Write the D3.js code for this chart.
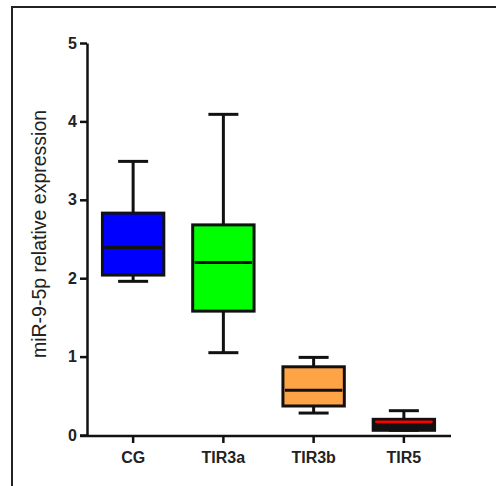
<!DOCTYPE html>
<html lang="en">
<head>
    <meta charset="UTF-8">
    <title>miR-9-5p boxplot</title>
    <script src="https://d3js.org/d3.v7.min.js"></script>
    <style>
        body { margin: 0; background: #fff; }
        .axis text { font-family: "Liberation Sans", Arial, sans-serif; font-weight: bold; font-size: 16px; fill: #222; }
        .axis path, .axis line { stroke: #111; stroke-width: 2.5px; }
    </style>
</head>
<body>
    <div id="chart"></div>

    <script>
        // values
        const categories = ["CG", "TIR3a", "TIR3b", "TIR5"];
        const mins    = [1.96, 1.05, 0.28, 0.06];
        const q1s     = [2.04, 1.58, 0.37, 0.06];
        const medians = [2.39, 2.20, 0.57, 0.17];
        const q3s     = [2.83, 2.68, 0.87, 0.20];
        const maxs    = [3.49, 4.09, 0.99, 0.31];
        const fills   = ["#0000ff", "#00ff00", "#ffa347", "#111111"];
        const medianColors = ["#111", "#111", "#111", "#ff0000"];
        const yTicks = [0, 1, 2, 3, 4, 5];

        const data = categories.map((c, i) => ({
            cat: c, min: mins[i], q1: q1s[i], med: medians[i], q3: q3s[i], max: maxs[i],
            fill: fills[i], medColor: medianColors[i]
        }));

        const W = 496, H = 486;
        const svg = d3.select("#chart")
          .append("svg")
            .attr("width", W)
            .attr("height", H);

        // frame round the figure
        svg.append("path")
            .attr("d", `M12,${H} V7 H${W}`)
            .attr("fill", "none")
            .attr("stroke", "#222")
            .attr("stroke-width", 2);

        const x = d3.scaleBand()
            .domain(categories)
            .range([88, 449]);

        const y = d3.scaleLinear()
            .domain([0, 5])
            .range([435, 43]);

        // y axis
        svg.append("g")
            .attr("class", "axis")
            .attr("transform", "translate(87,0)")
            .call(d3.axisLeft(y).tickValues(yTicks).tickFormat(d3.format("d"))
                .tickSize(7).tickSizeOuter(0).tickPadding(3));

        // x axis, the line runs a bit past the y axis like in the original
        const xAxis = svg.append("g")
            .attr("class", "axis")
            .attr("transform", "translate(0,436)")
            .call(d3.axisBottom(x).tickSize(7).tickPadding(9));
        xAxis.select(".domain").attr("d", "M80,0H451");

        // y title
        svg.append("text")
            .attr("transform", "rotate(-90)")
            .attr("x", -234)
            .attr("y", 46)
            .attr("text-anchor", "middle")
            .style("font-family", "Liberation Sans, Arial, sans-serif")
            .style("font-size", "19.5px")
            .style("fill", "#222")
            .text("miR-9-5p relative expression");

        const boxW = x.bandwidth() * 0.68;
        const capW = 30;
        const cx = d => x(d.cat) + x.bandwidth() / 2;

        const g = svg.append("g");

        // whiskers
        g.selectAll(".whisker")
            .data(data)
            .enter()
            .append("line")
            .attr("x1", cx).attr("x2", cx)
            .attr("y1", d => y(d.min))
            .attr("y2", d => y(d.max))
            .attr("stroke", "#111")
            .attr("stroke-width", 3);

        g.selectAll(".cap-top")
            .data(data)
            .enter()
            .append("line")
            .attr("x1", d => cx(d) - capW / 2)
            .attr("x2", d => cx(d) + capW / 2)
            .attr("y1", d => y(d.max))
            .attr("y2", d => y(d.max))
            .attr("stroke", "#111")
            .attr("stroke-width", 3);

        g.selectAll(".cap-bottom")
            .data(data)
            .enter()
            .append("line")
            .attr("x1", d => cx(d) - capW / 2)
            .attr("x2", d => cx(d) + capW / 2)
            .attr("y1", d => y(d.min))
            .attr("y2", d => y(d.min))
            .attr("stroke", "#111")
            .attr("stroke-width", 3);

        // boxes
        g.selectAll(".box")
            .data(data)
            .enter()
            .append("rect")
            .attr("x", d => cx(d) - boxW / 2)
            .attr("width", boxW)
            .attr("y", d => y(d.q3))
            .attr("height", d => y(d.q1) - y(d.q3))
            .attr("fill", d => d.fill)
            .attr("stroke", "#111")
            .attr("stroke-width", 3);

        // medians
        g.selectAll(".median")
            .data(data)
            .enter()
            .append("line")
            .attr("x1", d => cx(d) - boxW / 2 + 2)
            .attr("x2", d => cx(d) + boxW / 2 - 2)
            .attr("y1", d => y(d.med))
            .attr("y2", d => y(d.med))
            .attr("stroke", d => d.medColor)
            .attr("stroke-width", d => d.medColor === "#ff0000" ? 2.5 : 3);
    </script>
</body>
</html>
